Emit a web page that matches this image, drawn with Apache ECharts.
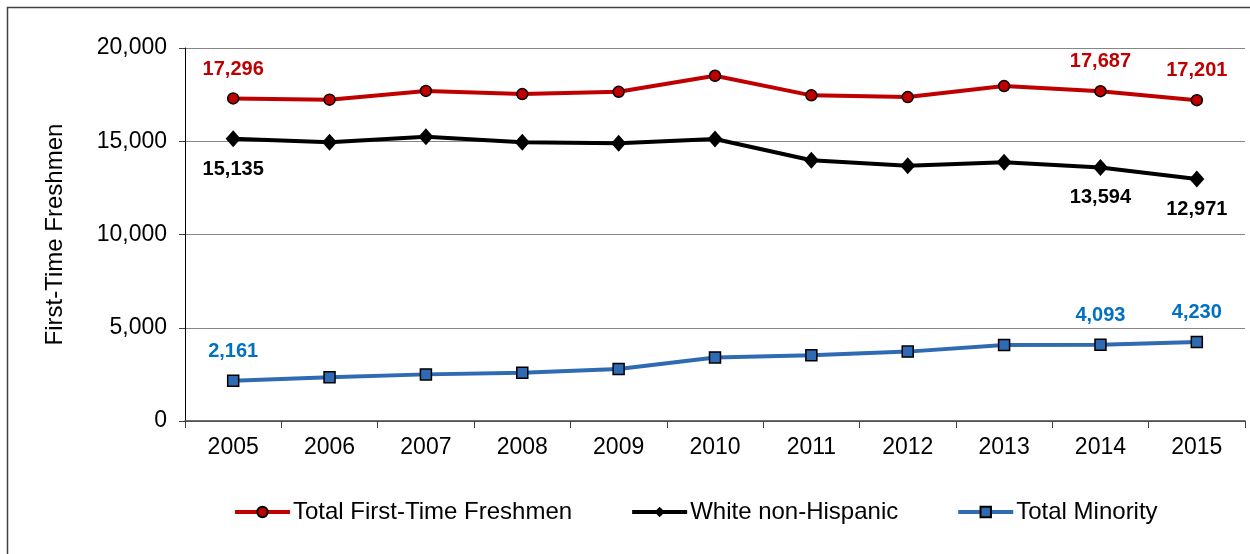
<!DOCTYPE html>
<html><head><meta charset="utf-8">
<script src="https://cdn.jsdelivr.net/npm/echarts@6/dist/echarts.min.js"></script>
<style>html,body{margin:0;padding:0;background:#fff}#c{width:1250px;height:554px}</style>
</head><body><div id="c"></div>
<script>
const years = ['2005','2006','2007','2008','2009','2010','2011','2012','2013','2014','2015'];
const totalFreshmen = [17296,17230,17700,17530,17650,18510,17460,17370,17960,17687,17201];
const whiteNonHispanic = [15135,14940,15240,14940,14890,15120,13980,13690,13870,13594,12971];
const totalMinority = [2161,2340,2500,2590,2790,3410,3520,3720,4080,4093,4230];
const labeledIdx = [0,9,10];
const FONT = 'Liberation Sans, Arial, sans-serif';

function withLabels(arr, color, pos, dist) {
  return arr.map((v,i) => labeledIdx.includes(i)
    ? {value:v, label:{show:true, position:pos, distance:dist, color:color, fontWeight:'bold', fontSize:20, fontFamily:FONT,
        formatter: p => p.value.toLocaleString('en-US')}}
    : v);
}

const chart = echarts.init(document.getElementById('c'));
chart.setOption({
  animation:false,
  backgroundColor:'#fff',
  graphic:[{type:'rect', shape:{x:7.5,y:7.5,width:1250,height:560}, style:{fill:'none', stroke:'#404040', lineWidth:1.5}, silent:true}],
  grid:{left:185, right:5, top:48, bottom:133},
  legend:{
    top:495, left:228, itemGap:58, itemWidth:55, itemHeight:13,
    lineStyle:{width:4},
    textStyle:{fontFamily:FONT, fontSize:24, color:'#000', padding:[0,0,0,-2]},
    data:['Total First-Time Freshmen','White non-Hispanic','Total Minority']
  },
  xAxis:{
    type:'category', data:years, boundaryGap:true,
    axisLine:{lineStyle:{color:'#404040', width:1.5}},
    axisTick:{show:true, length:7, lineStyle:{color:'#404040'}},
    axisLabel:{fontFamily:FONT, fontSize:23, color:'#000', margin:15},
    splitLine:{show:false}
  },
  yAxis:{
    type:'value', min:0, max:20000, interval:5000,
    name:'First-Time Freshmen', nameLocation:'middle', nameGap:118,
    nameTextStyle:{fontFamily:FONT, fontSize:24, color:'#000'},
    axisLine:{show:true, lineStyle:{color:'#000', width:1}},
    axisTick:{show:true, length:6, lineStyle:{color:'#404040'}},
    axisLabel:{fontFamily:FONT, fontSize:23, color:'#000', margin:18,
      formatter: v => v.toLocaleString('en-US')},
    splitLine:{lineStyle:{color:'#868686', width:1.2}}
  },
  series:[
    {name:'Total First-Time Freshmen', type:'line', data:withLabels(totalFreshmen,'#C00000','top',13),
     symbol:'circle', symbolSize:11, lineStyle:{color:'#C00000', width:4},
     itemStyle:{color:'#C00000', borderColor:'#000', borderWidth:1.5}, z:3},
    {name:'White non-Hispanic', type:'line', data:withLabels(whiteNonHispanic,'#000','bottom',12),
     symbol:'diamond', symbolSize:[15,17], lineStyle:{color:'#000', width:4},
     itemStyle:{color:'#000', borderColor:'#000', borderWidth:0}, z:2},
    {name:'Total Minority', type:'line', data:withLabels(totalMinority,'#0070C0','top',13),
     symbol:'rect', symbolSize:11, lineStyle:{color:'#2E6BB2', width:4},
     itemStyle:{color:'#2E6BB2', borderColor:'#000', borderWidth:1.5}, z:1}
  ]
});
</script></body></html>
